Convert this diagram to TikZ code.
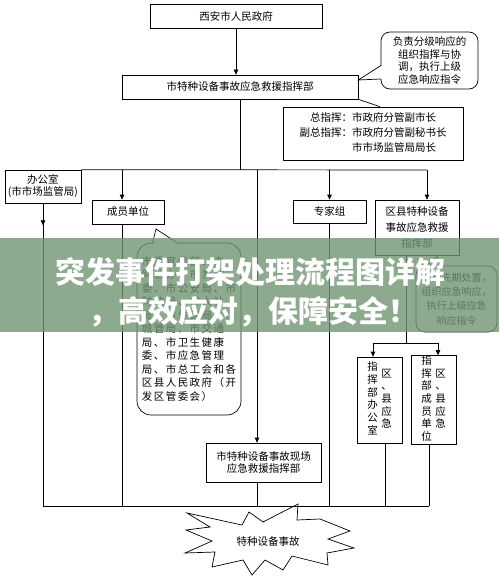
\documentclass[tikz,border=0pt]{standalone}
\usepackage{fontspec}
\setmainfont{Noto Sans CJK SC}
\newfontfamily\widecjk[LetterSpace=14]{Noto Sans CJK SC}
\usetikzlibrary{arrows.meta}
\definecolor{bannergreen}{RGB}{112,149,115}
\newcommand{\vcol}[1]{\begin{tabular}{@{}c@{}}#1\end{tabular}}

\begin{document}
\begin{tikzpicture}[x=1pt,y=-1pt,line width=0.7pt,
    box/.style={draw,inner sep=0pt,align=center,font=\fontsize{10.5}{15}\selectfont},
    note/.style={draw,rounded corners=9pt,inner sep=0pt,align=center},
    arr/.style={-{Triangle[length=5pt,width=4.5pt]}},
    banner/.style={text=white,inner sep=0pt,font=\bfseries\fontsize{30}{30}\selectfont}]
    \useasboundingbox (0,0) rectangle (499,578);
    \node[box,minimum width=172,minimum height=24] (gov) at (236,16) {西安市人民政府};
    \node[box,minimum width=236,minimum height=24] (hq) at (240,87) {市特种设备事故应急救援指挥部};
    \node[note,minimum width=97,minimum height=57,font=\fontsize{10.5}{12.7}\selectfont] (duty) at (429.5,60.5)
     {负责分级响应的\\组织指挥与协\\调，执行上级\\应急响应指令};
    \node[box,minimum width=180,minimum height=53] (chief) at (373,133.5)
     {\begin{tabular}{@{}r@{}l@{}}总指挥：&市政府分管副市长\\副总指挥：&市政府分管副秘书长\\&市市场监管局局长\end{tabular}};
    \node[box,minimum width=76,minimum height=33,font=\fontsize{10.5}{12}\selectfont] (office) at (43,186.5) {办公室\\(市市场监管局)};
    \node[box,minimum width=72,minimum height=24] (members) at (128,212) {成员单位};
    \node[box,minimum width=73,minimum height=23] (experts) at (329.5,211.5) {专家组};
    \node[box,minimum width=84,minimum height=55,font=\fontsize{10.5}{16}\selectfont] (county) at (417,227.5)
     {区县特种设备\\事故应急救援\\指挥部};
    \node[note,minimum width=81,minimum height=66,font=\fontsize{10}{14.3}\selectfont] (early) at (456.5,299)
     {负责先期处置，\\组织应急响应，\\执行上级应急\\响应指令};
    \node[note,rounded corners=14pt,minimum width=104,minimum height=172,align=left,
     font=\widecjk\fontsize{10.5}{13.5}\selectfont] (list) at (189,329)
     {市委宣传部、市\\网信办、市发改\\委、市公安局、市\\财政局、市人社\\局、市住建局、市\\城管局、市交通\\局、市卫生健康\\委、市应急管理\\局、市总工会和各\\区县人民政府（开\\发区管委会）};
    \node[box,minimum width=45,minimum height=86,font=\fontsize{10.5}{12.7}\selectfont] (cOffice) at (379.5,400)
     {\begin{tabular}{@{}c@{\hspace{3.5pt}}c@{}}\vcol{指\\挥\\部\\办\\公\\室}&\vcol{区\\、\\县\\应\\急}\end{tabular}};
    \node[box,minimum width=45,minimum height=86,font=\fontsize{10.5}{12.7}\selectfont] (cMembers) at (433.5,400)
     {\begin{tabular}{@{}c@{\hspace{3.5pt}}c@{}}\vcol{指\\挥\\部\\成\\员\\单\\位}&\vcol{区\\、\\县\\应\\急}\end{tabular}};
    \node[box,minimum width=115,minimum height=39,font=\fontsize{10.5}{12.5}\selectfont] (site) at (263.5,462.5)
     {市特种设备事故现场\\应急救援指挥部};
    % burst
    \draw[fill=white] (298,504) -- (297,520) -- (320,519) -- (350,531) -- (328,539) -- (354,548) -- (327,553)
     -- (328,565) -- (292,556) -- (283,570) -- (265,560) -- (252,575) -- (243,560) -- (212,567) -- (215,552)
     -- (185,553) -- (212,541) -- (186,530) -- (210,527) -- (187,513) -- (242,525) -- (249,512) -- (263,522) -- cycle;
    \node[font=\fontsize{10.5}{12}\selectfont] (accident) at (268,542) {特种设备事故};

    \coordinate (busL) at (office.north east);
    \coordinate (busR) at (427,170);
    \coordinate (baseL) at (office.south |- 0,506);
    \coordinate (baseR) at (429,506);
    \coordinate (fork) at (406,343);
    \draw[arr] (gov.south) -- (gov.south |- hq.north);
    \draw (hq.south) -- (hq.south |- busL);
    \draw (hq.south east) -- (chief.north -| 380,0);
    \draw (busL) -- (busR);
    \draw[arr] (busL -| 122,0) -- (members.north -| 122,0);
    \draw[arr] (busL -| experts.north) -- (experts.north);
    \draw[arr] (busR) -- (busR |- county.north);
    \draw[arr] (busL -| 257,0) -- (site.north -| 257,0);
    \draw[arr] (office.south) -- ++(0,22);
    \draw (office.south) -- (baseL);
    \draw (baseL) -- (baseR);
    \draw (members.south -| 122,0) -- (baseL -| 122,0);
    \draw (experts.south) -- (baseL -| experts.south);
    \draw (site.south -| 257,0) -- (baseL -| 257,0);
    \draw (county.south -| fork) -- (fork);
    \draw (fork -| 373,0) -- (fork -| 438,0);
    \draw[arr] (fork -| 373,0) -- (cOffice.north -| 373,0);
    \draw[arr] (fork -| 438,0) -- (cMembers.north -| 438,0);
    \draw (cOffice.south -| 385,0) -- (baseL -| 385,0);
    \draw (cMembers.south -| 429,0) -- (baseR);
    % callout pointers
    \fill[white] (380,66.5) rectangle (382.5,78.5);
    \draw (381,65.5) -- (hq.east |- 0,80) -- (381,79);
    \fill[white] (153.5,242) rectangle (177,244.5);
    \draw (152.5,243) -- (156,229) -- (177.5,243);
    \fill[white] (426,265) rectangle (440.5,267.5);
    \draw (425.5,266) -- (437,256.5) -- (441,266);

    \fill[bannergreen,opacity=0.8] (0,238) rectangle (499,332);
    \node[banner] (title1) at (250,272) {突发事件打架处理流程图详解};
    \node[banner] (title2) at (253,312) {，高效应对，保障安全！};
\end{tikzpicture}
\end{document}
